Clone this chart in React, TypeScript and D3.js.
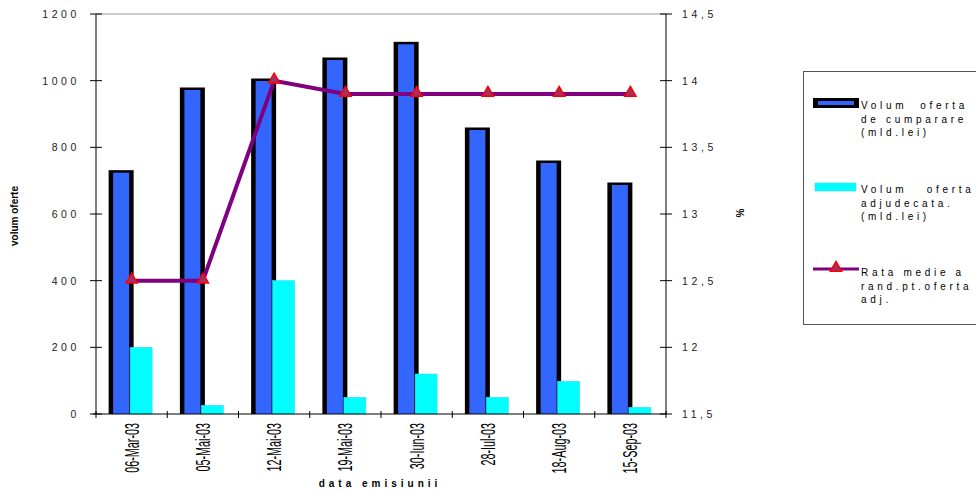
import React from "react";
import * as d3 from "d3";

const categories = ["06-Mar-03", "05-Mai-03", "12-Mai-03", "19-Mai-03", "30-Iun-03", "28-Iul-03", "18-Aug-03", "15-Sep-03"];
const volumCumparare = [727, 975, 1002, 1065, 1112, 855, 756, 690];
const volumAdjudecat = [200, 26, 400, 50, 120, 50, 98, 20];
const rataMedie = [12.5, 12.5, 14.0, 13.9, 13.9, 13.9, 13.9, 13.9];
const leftTicks = [0, 200, 400, 600, 800, 1000, 1200];
const rightTicks = [11.5, 12, 12.5, 13, 13.5, 14, 14.5];

const W = 976, H = 491;
const plotL = 96, plotR = 666, plotT = 14, plotB = 414;
const font = "'Liberation Sans', Arial, sans-serif";

export default function App() {
  const x = d3.scaleBand<string>().domain(categories).range([plotL, plotR]).padding(0);
  const yL = d3.scaleLinear().domain([0, 1200]).range([plotB, plotT]);
  const yR = d3.scaleLinear().domain([11.5, 14.5]).range([plotB, plotT]);
  const cx = (c: string) => (x(c) as number) + x.bandwidth() / 2;
  const line = d3.line<number>().x((_, i) => cx(categories[i])).y((d) => yR(d));
  const tri = d3.symbol().type(d3.symbolTriangle).size(55);
  const boundaries = d3.range(categories.length + 1).map((i) => plotL + i * x.bandwidth());

  const fmtR = (v: number) => String(v).replace(".", ",");

  return (
    <svg width={W} height={H} style={{ position: "absolute", left: 0, top: 0, background: "#fff" }}>
      <rect x={0} y={0} width={W} height={H} fill="#fff" />
      <line x1={plotL} x2={plotR} y1={plotT} y2={plotT} stroke="#999" strokeWidth={1} />
      {categories.map((c, i) => {
        const cc = cx(c);
        const top = yL(volumCumparare[i]);
        return (
          <g key={c}>
            <rect x={cc - 23} y={top - 1.5} width={25} height={plotB - top + 1.5} fill="#000" />
            <rect x={cc - 18.5} y={top + 1} width={16} height={plotB - top - 1} fill="#3366FF" />
            <rect x={cc - 1.5} y={yL(volumAdjudecat[i])} width={22} height={plotB - yL(volumAdjudecat[i])} fill="#00FFFF" stroke="#33DDFF" strokeWidth={0.6} />
          </g>
        );
      })}
      <line x1={plotL} x2={plotL} y1={plotT} y2={plotB} stroke="#000" />
      <line x1={plotR} x2={plotR} y1={plotT} y2={plotB} stroke="#000" />
      <line x1={plotL - 3} x2={plotR + 1} y1={plotB} y2={plotB} stroke="#000" />
      {leftTicks.map((t) => (
        <g key={"l" + t}>
          <line x1={plotL - 6} x2={plotL + 6} y1={yL(t)} y2={yL(t)} stroke="#000" />
          <text x={80} y={yL(t) + 4} textAnchor="end" fontFamily={font} fontSize={10.5} letterSpacing={3.6} fill="#222">{t}</text>
        </g>
      ))}
      {rightTicks.map((t) => (
        <g key={"r" + t}>
          <line x1={plotR - 6} x2={plotR + 6} y1={yR(t)} y2={yR(t)} stroke="#000" />
          <text x={682} y={yR(t) + 4} fontFamily={font} fontSize={10.5} letterSpacing={3.6} fill="#222">{fmtR(t)}</text>
        </g>
      ))}
      {boundaries.map((b, i) => (
        <line key={"b" + i} x1={b} x2={b} y1={plotB - 3} y2={plotB + 4} stroke="#000" />
      ))}
      <path d={line(rataMedie) as string} fill="none" stroke="#800080" strokeWidth={4} />
      {rataMedie.map((v, i) => (
        <path key={"m" + i} d={tri() as string} transform={`translate(${cx(categories[i])},${yR(v) - 1})`} fill="#A0306A" stroke="#FF0000" strokeWidth={1.5} />
      ))}
      {categories.map((c) => (
        <text key={"xl" + c} transform={`translate(${cx(c) + 7},${423}) rotate(-90) scale(0.54,1)`} textAnchor="end" fontFamily={font} fontSize={20} fill="#000">{c}</text>
      ))}
      <text x={380} y={487} textAnchor="middle" fontFamily={font} fontSize={10} fontWeight="bold" letterSpacing={4}>data emisiunii</text>
      <text transform={`translate(18,216) rotate(-90)`} textAnchor="middle" fontFamily={font} fontSize={10} fontWeight="bold">volum oferte</text>
      <text transform={`translate(744,213) rotate(-90)`} textAnchor="middle" fontFamily={font} fontSize={10} fontWeight="bold">%</text>
      <rect x={803.5} y={71.5} width={190} height={253} fill="#fff" stroke="#555" strokeWidth={1} />
      <rect x={813} y={98} width={46} height={10} fill="#000" />
      <rect x={818} y={101} width={36} height={4} fill="#3366FF" />
      <rect x={815} y={183} width={41} height={8} fill="#00FFFF" stroke="#33DDFF" strokeWidth={0.6} />
      <line x1={813} x2={859} y1={269} y2={269} stroke="#800080" strokeWidth={3} />
      <path d={tri() as string} transform="translate(836,268)" fill="#A0306A" stroke="#FF0000" strokeWidth={1.5} />
      {[
        { y: 109, lines: ["Volum  oferta", "de cumparare", "(mld.lei)"] },
        { y: 193, lines: ["Volum   oferta", "adjudecata.", "(mld.lei)"] },
        { y: 276, lines: ["Rata medie a", "rand.pt.oferta", "adj."] },
      ].map((g, gi) => (
        <text key={"lg" + gi} fontFamily={font} fontSize={10} letterSpacing={3.7} fill="#000" style={{ whiteSpace: "pre" }}>
          {g.lines.map((l, li) => (
            <tspan key={li} x={861} y={g.y + li * 13.5}>{l}</tspan>
          ))}
        </text>
      ))}
    </svg>
  );
}
